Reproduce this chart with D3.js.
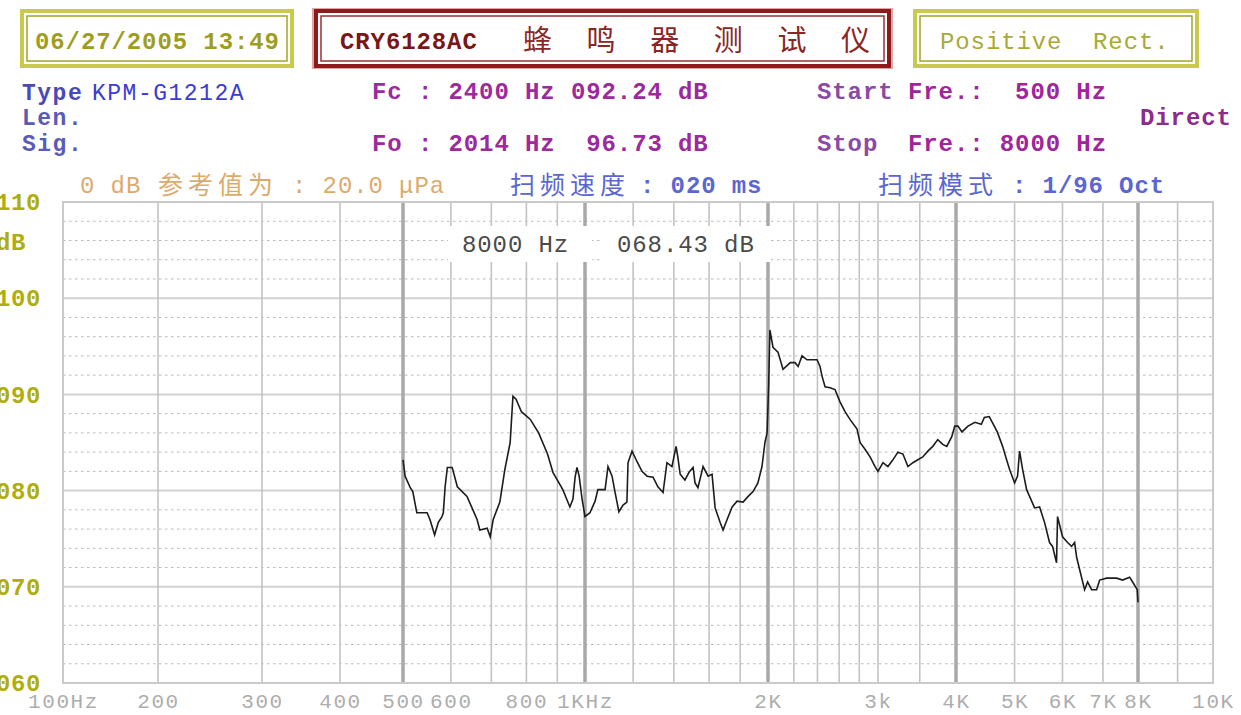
<!DOCTYPE html>
<html>
<head>
<meta charset="utf-8">
<title>CRY6128AC</title>
<script src="https://cdn.jsdelivr.net/npm/d3@7/dist/d3.min.js"></script>
<style>
    html, body { margin: 0; padding: 0; background: #fff; overflow: hidden; }
    svg { display: block; }
</style>
</head>
<body>
<svg id="chart" width="1241" height="715"></svg>
<script>
// sweep result
var freqHz = [
    500, 504, 514, 519, 527, 548, 554, 564, 572, 580, 583, 587, 592, 603, 615, 638, 663, 670, 689, 697,
    705, 723, 737, 752, 760, 769, 785, 812, 838, 867, 885, 919, 944, 955, 963, 970, 978, 989, 1000,
    1019, 1039, 1050, 1079, 1091, 1108, 1120, 1137, 1155, 1172, 1177, 1195, 1218, 1241, 1265, 1294, 1318, 1344, 1364, 1390,
    1412, 1422, 1434, 1460, 1483, 1506, 1517, 1534, 1564, 1594, 1618, 1637, 1668, 1687, 1713, 1746, 1779, 1820, 1855, 1890,
    1925, 1955, 1977, 1993,
    2005, 2014, 2037, 2075, 2114, 2171, 2210, 2235, 2267, 2309, 2396, 2423, 2441, 2468, 2514, 2561, 2609, 2657, 2706, 2777,
    2808, 2860, 2914, 2968, 3000, 3056, 3112, 3170, 3229, 3289, 3350, 3412, 3475, 3539, 3605, 3672, 3740, 3809, 3866, 3938,
    3982,
    4030, 4092, 4187, 4300, 4405, 4456, 4540, 4593, 4681, 4777, 4850, 4906, 5000, 5057, 5096, 5155, 5234, 5294, 5395, 5499,
    5604, 5712, 5778, 5866, 5889, 6002, 6118, 6212, 6284, 6332, 6405, 6528, 6603, 6705, 6834, 6913, 7100, 7375, 7545, 7749,
    7838, 7977, 8000
];
var levelDb = [
    83.2, 81.5, 80.3, 79.9, 77.7, 77.7, 77.0, 75.4, 76.7, 77.3, 77.7, 80.4, 82.4, 82.4, 80.4, 79.4, 77.0, 75.9, 76.1, 75.2,
    77.0, 78.8, 82.2, 85.0, 89.8, 89.5, 88.2, 87.4, 86.0, 83.8, 81.9, 80.1, 78.3, 79.1, 81.4, 82.4, 81.5, 79.1, 77.3,
    77.7, 78.9, 80.1, 80.1, 82.5, 81.5, 79.9, 77.8, 78.5, 78.8, 82.9, 84.1, 83.0, 82.0, 81.5, 81.4, 80.4, 79.8, 82.9, 82.5,
    84.6, 83.4, 81.7, 81.1, 81.9, 82.4, 80.8, 80.3, 82.5, 81.5, 81.7, 78.2, 76.7, 75.9, 77.0, 78.3, 78.9, 78.8, 79.4, 79.9,
    80.8, 82.5, 85.0, 86.0,
    91.0, 96.7, 94.9, 94.4, 92.6, 93.3, 93.3, 92.9, 94.0, 93.6, 93.6, 92.9, 91.9, 90.8, 90.7, 90.5, 89.2, 88.2, 87.4, 86.4,
    85.0, 84.3, 83.5, 82.5, 82.0, 82.9, 82.5, 83.2, 84.0, 83.8, 82.5, 82.9, 83.2, 83.5, 84.1, 84.6, 85.3, 84.8, 84.6, 85.6,
    86.7,
    86.7, 86.1, 86.7, 87.1, 86.9, 87.6, 87.7, 87.1, 86.1, 84.6, 83.2, 82.2, 80.8, 81.5, 84.1, 82.2, 80.1, 79.4, 78.2, 78.3,
    76.7, 74.6, 74.2, 72.5, 77.3, 75.2, 74.6, 74.2, 74.6, 73.1, 71.8, 69.7, 70.5, 69.7, 69.7, 70.7, 70.9, 70.9, 70.7, 71.0,
    70.5, 69.7, 68.4
];

// axis ticks and grid
var xTicks = [100, 200, 300, 400, 500, 600, 800, 1000, 2000, 3000, 4000, 5000, 6000, 7000, 8000, 10000];
var xTickLabels = ["100Hz", "200", "300", "400", "500", "600", "800", "1KHz", "2K", "3k", "4K", "5K", "6K", "7K", "8K", "10K"];
var yTicks = [110, 100, 90, 80, 70, 60];
var yTickLabels = ["110", "100", "090", "080", "070", "060"];
var gridThinHz = [200, 300, 400, 600, 700, 800, 900, 1200, 1400, 1600, 1800, 2200, 2400, 2600, 2800, 3000, 3500, 5000, 6000, 7000, 9000];
var gridThickHz = [500, 1000, 2000, 4000, 8000];
var gridSolidDb = [70, 80, 90, 100];
var gridDotDb = [62, 64, 66, 68, 72, 74, 76, 78, 82, 84, 86, 88, 92, 94, 96, 98, 102, 104, 106, 108];

function drawChart() {

    'use strict';
    /*global d3*/

    var MONO = '"Liberation Mono", "DejaVu Sans Mono", monospace',
        CJK = '"Noto Sans CJK SC", sans-serif',
        svg = d3.select("#chart"),
        // the instrument's frequency axis is log, but squeezed below 500 Hz
        x = d3.scaleLog()
            .domain([100, 200, 300, 400, 500, 1000, 2000, 4000, 8000, 10000])
            .range([63, 158, 262, 340, 403, 585, 768, 956, 1138, 1213]),
        y = d3.scaleLinear().domain([60, 110]).range([683, 202]),
        grid,
        line;

    /**
      * Put one run of text on the sheet.
      */
    function label(px, py, str, color, opts) {
        opts = opts || {};
        return svg.append("text")
            .attr("x", px)
            .attr("y", py)
            .attr("fill", color)
            .attr("font-family", opts.family || MONO)
            .attr("font-size", opts.size || 24)
            .attr("font-weight", opts.weight || "bold")
            .attr("letter-spacing", opts.spacing !== undefined ? opts.spacing : 0.9)
            .attr("xml:space", "preserve")
            .style("white-space", "pre")
            .text(str);
    }

    /**
      * Header box with double border.
      */
    function headerBox(x0, x1, outer, inner) {
        svg.append("rect")
            .attr("x", x0).attr("y", 11).attr("width", x1 - x0).attr("height", 55)
            .attr("fill", "none").attr("stroke", outer).attr("stroke-width", 4);
        svg.append("rect")
            .attr("x", x0 + 5).attr("y", 16).attr("width", x1 - x0 - 10).attr("height", 45)
            .attr("fill", "none").attr("stroke", inner).attr("stroke-width", 1.5);
    }

    //
    // header
    //
    headerBox(22, 292, "#c9c94e", "#a4a428");
    svg.append("rect")
        .attr("x", 313).attr("y", 9).attr("width", 579).attr("height", 59)
        .attr("fill", "none").attr("stroke", "#e6a3a3").attr("stroke-width", 2);
    headerBox(316, 889, "#8c1c1c", "#9a3030");
    headerBox(915, 1197, "#c9c94e", "#a4a428");

    label(35, 49, "06/27/2005 13:49", "#9e9e1e");
    label(340, 49, "CRY6128AC", "#7c1616");
    label(523, 51, "蜂鸣器测试仪", "#8a2626", {family: CJK, size: 29, weight: "normal", spacing: 34.6});
    label(940, 49, "Positive  Rect.", "#a9a935", {weight: "normal"});

    label(22, 100, "Type", "#4a4ab6", {size: 23, spacing: 1.5});
    label(92, 100, "KPM-G1212A", "#3c3cd2", {size: 23, spacing: 1.5, weight: "normal"});
    label(22, 125, "Len.", "#5a5ab8", {size: 23, spacing: 1.5});
    label(22, 151, "Sig.", "#5a5ab8", {size: 23, spacing: 1.5});
    label(372, 99, "Fc : 2400 Hz 092.24 dB", "#9c2a9c");
    label(372, 151, "Fo : 2014 Hz  96.73 dB", "#9c2a9c");
    label(817, 99, "Start", "#8a4aa6");
    label(908, 99, "Fre.:  500 Hz", "#a0259a");
    label(817, 151, "Stop", "#8a4aa6");
    label(908, 151, "Fre.: 8000 Hz", "#a0259a");
    label(1140, 125, "Direct", "#8c2c8c");

    label(80, 193, "0 dB", "#dcab6c", {weight: "normal"});
    label(158, 194, "参考值为", "#dcab6c", {family: CJK, size: 25, weight: "normal", spacing: 5});
    label(292, 193, ": 20.0 μPa", "#dcab6c", {weight: "normal"});
    label(510, 194, "扫频速度", "#5b66d2", {family: CJK, size: 25, weight: "normal", spacing: 5});
    label(640, 193, ": 020 ms", "#5b66d2");
    label(878, 194, "扫频模式", "#5b66d2", {family: CJK, size: 25, weight: "normal", spacing: 5});
    label(1012, 193, ": 1/96 Oct", "#5b66d2");

    //
    // grid
    //
    grid = svg.append("g").attr("class", "grid");
    grid.selectAll("line.dot")
        .data(gridDotDb)
        .enter().append("line")
        .attr("class", "dot")
        .attr("x1", x(100)).attr("x2", x(10000))
        .attr("y1", function (d) { return y(d); })
        .attr("y2", function (d) { return y(d); })
        .attr("stroke", "#b9b9b9").attr("stroke-width", 1)
        .attr("stroke-dasharray", "2.5,3.5");
    grid.selectAll("line.solid")
        .data(gridSolidDb)
        .enter().append("line")
        .attr("class", "solid")
        .attr("x1", x(100)).attr("x2", x(10000))
        .attr("y1", function (d) { return y(d); })
        .attr("y2", function (d) { return y(d); })
        .attr("stroke", "#d2d2d2").attr("stroke-width", 2);
    grid.selectAll("line.thin")
        .data(gridThinHz)
        .enter().append("line")
        .attr("class", "thin")
        .attr("x1", function (d) { return x(d); })
        .attr("x2", function (d) { return x(d); })
        .attr("y1", y(110)).attr("y2", y(60))
        .attr("stroke", "#c3c3c3").attr("stroke-width", 1.6);
    grid.selectAll("line.thick")
        .data(gridThickHz)
        .enter().append("line")
        .attr("class", "thick")
        .attr("x1", function (d) { return x(d); })
        .attr("x2", function (d) { return x(d); })
        .attr("y1", y(110)).attr("y2", y(60))
        .attr("stroke", "#a9a9a9").attr("stroke-width", 3.5);
    grid.append("rect")
        .attr("x", x(100)).attr("y", y(110))
        .attr("width", x(10000) - x(100)).attr("height", y(60) - y(110))
        .attr("fill", "none").attr("stroke", "#cacaca").attr("stroke-width", 2);

    // cursor readout, drawn over the grid
    svg.append("rect").attr("x", 448).attr("y", 226).attr("width", 144).attr("height", 36).attr("fill", "#fff");
    svg.append("rect").attr("x", 600).attr("y", 226).attr("width", 170).attr("height", 36).attr("fill", "#fff");
    label(462, 252, "8000 Hz", "#4a4a4a", {weight: "normal"});
    label(617, 252, "068.43 dB", "#4a4a4a", {weight: "normal"});

    //
    // response curve
    //
    line = d3.line()
        .x(function (d) { return x(d[0]); })
        .y(function (d) { return y(d[1]); });
    svg.append("path")
        .datum(d3.zip(freqHz, levelDb))
        .attr("d", line)
        .attr("fill", "none")
        .attr("stroke", "#1c1c1c")
        .attr("stroke-width", 1.6)
        .attr("stroke-linejoin", "miter");

    //
    // axes
    //
    svg.append("g")
        .attr("transform", "translate(0,702)")
        .call(d3.axisBottom(x)
            .tickValues(xTicks)
            .tickFormat(function (d, i) { return xTickLabels[i]; })
            .tickSize(0)
            .tickPadding(0))
        .call(function (g) {
            g.select(".domain").remove();
            g.selectAll("text")
                .attr("dy", "0.3em")
                .attr("fill", "#adadad")
                .attr("font-family", MONO)
                .attr("font-size", 21)
                .attr("letter-spacing", 1.6);
        });

    svg.append("g")
        .attr("transform", "translate(-4,0)")
        .call(d3.axisRight(y)
            .tickValues(yTicks)
            .tickFormat(function (d, i) { return yTickLabels[i]; })
            .tickSize(0)
            .tickPadding(0))
        .call(function (g) {
            g.select(".domain").remove();
            g.selectAll("text")
                .attr("fill", "#aeae0e")
                .attr("font-family", MONO)
                .attr("font-size", 24)
                .attr("font-weight", "bold")
                .attr("letter-spacing", 0.6);
        });
    label(-4, y(105.8) + 8, "dB", "#aeae0e", {spacing: 0.6});
}

drawChart();
</script>
</body>
</html>
